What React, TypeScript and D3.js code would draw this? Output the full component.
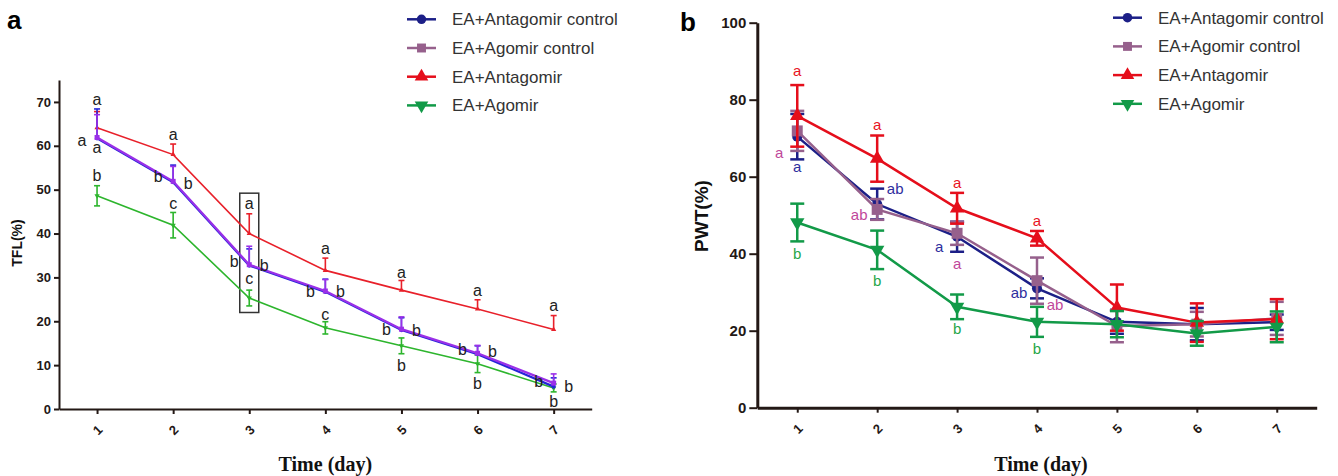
import React, { useEffect, useRef } from 'react';
import * as d3 from 'd3';

const days = [1, 2, 3, 4, 5, 6, 7];
const seriesNames = ['EA+Antagomir control', 'EA+Agomir control', 'EA+Antagomir', 'EA+Agomir'];

// panel a: TFL(%)
const tflAntagomirCtrl = [61.7, 51.7, 32.7, 26.7, 18.0, 12.5, 5.1];
const tflAntagomirCtrlErr = [6.7, 3.9, 3.8, 2.9, 2.8, 1.9, 2.0];
const tflAgomirCtrl = [61.9, 51.9, 32.9, 26.9, 18.2, 12.7, 5.9];
const tflAgomirCtrlErr = [5.2, 3.4, 4.2, 2.6, 2.8, 1.8, 2.1];
const tflAntagomir = [64.1, 58.0, 40.0, 31.6, 27.1, 22.8, 18.1];
const tflAntagomirErr = [3.7, 2.4, 4.5, 2.8, 2.2, 2.1, 3.2];
const tflAgomir = [48.6, 41.9, 25.3, 18.5, 14.4, 10.3, 4.8];
const tflAgomirErr = [2.3, 2.9, 1.8, 1.4, 1.8, 2.0, 0.9];

// significance letters: [day, letter, side, value]
const tflLetters: [number, string, string, number][] = [
  [1, 'a', 'c', 70.5], [1, 'a', 'l', 61.3], [1, 'a', 'c', 59.6], [1, 'b', 'c', 53.2],
  [2, 'a', 'c', 62.5], [2, 'b', 'l', 53.0], [2, 'b', 'r', 51.5], [2, 'c', 'c', 46.9],
  [3, 'a', 'c', 46.9], [3, 'b', 'l', 33.6], [3, 'b', 'r', 32.8], [3, 'c', 'c', 29.8],
  [4, 'a', 'c', 36.6], [4, 'b', 'l', 26.7], [4, 'b', 'r', 26.7], [4, 'c', 'c', 21.6],
  [5, 'a', 'c', 31.1], [5, 'b', 'l', 18.2], [5, 'b', 'r', 17.9], [5, 'b', 'c', 9.9],
  [6, 'a', 'c', 27.0], [6, 'b', 'l', 13.6], [6, 'b', 'r', 13.1], [6, 'b', 'c', 5.9],
  [7, 'a', 'c', 23.6], [7, 'b', 'l', 6.2], [7, 'b', 'r', 5.1], [7, 'b', 'c', 1.7],
];

// panel b: PWT(%)
const pwtAntagomirCtrl = [70.4, 52.9, 44.4, 31.0, 22.3, 21.7, 22.2];
const pwtAntagomirCtrlErr = [5.9, 4.0, 3.9, 2.6, 3.1, 4.2, 2.0];
const pwtAgomirCtrl = [71.9, 51.5, 45.3, 33.0, 21.2, 21.7, 23.2];
const pwtAgomirCtrlErr = [5.2, 2.7, 3.0, 6.0, 4.2, 3.2, 4.3];
const pwtAntagomir = [75.8, 64.7, 51.8, 44.0, 26.0, 22.1, 23.0];
const pwtAntagomirErr = [8.0, 6.0, 4.0, 1.9, 6.0, 5.0, 5.2];
const pwtAgomir = [48.1, 41.0, 26.2, 22.3, 21.7, 19.3, 21.0];
const pwtAgomirErr = [4.9, 5.0, 3.2, 3.9, 3.4, 3.2, 4.0];

// [day, letter, side, value, series index]
const pwtLetters: [number, string, string, number, number][] = [
  [1, 'a', 'c', 87.5, 2], [1, 'a', 'l', 66.2, 1], [1, 'a', 'c', 62.6, 0], [1, 'b', 'c', 40.1, 3],
  [2, 'a', 'c', 73.4, 2], [2, 'ab', 'r', 57.0, 0], [2, 'ab', 'l', 50.1, 1], [2, 'b', 'c', 33.0, 3],
  [3, 'a', 'c', 58.3, 2], [3, 'a', 'l', 41.8, 0], [3, 'a', 'c', 37.5, 1], [3, 'b', 'c', 20.4, 3],
  [4, 'a', 'c', 48.6, 2], [4, 'ab', 'l', 29.9, 0], [4, 'ab', 'r', 26.7, 1], [4, 'b', 'c', 15.4, 3],
];

const legendColors = ['#1c1f87', '#96608c', '#e50e1b', '#129a48'];
const legendSymbols = [d3.symbolCircle, d3.symbolSquare, d3.symbolTriangle, d3.symbolTriangle];

const axisColor = '#231815';

function drawPanel(svg: any, cfg: any) {
  const x = d3.scaleLinear().domain([0.5, 7.5]).range(cfg.xRange);
  const y = d3.scaleLinear().domain(cfg.yDomain).range(cfg.yRange);
  const g = svg.append('g');

  // axes
  const yAxis = g.append('g')
    .attr('transform', `translate(${cfg.xRange[0]},0)`)
    .call(d3.axisLeft(y).tickValues(cfg.yTicks).tickSize(cfg.tickLen).tickSizeOuter(0).tickPadding(3));
  const xAxis = g.append('g')
    .attr('transform', `translate(0,${cfg.yRange[0]})`)
    .call(d3.axisBottom(x).tickValues(days).tickFormat(d3.format('d')).tickSize(5).tickSizeOuter(0));
  [yAxis, xAxis].forEach(ax => {
    ax.select('.domain').attr('stroke', axisColor).attr('stroke-width', cfg.axisWidth);
    ax.selectAll('.tick line').attr('stroke', axisColor).attr('stroke-width', 2);
  });
  yAxis.selectAll('text')
    .attr('fill', axisColor)
    .style('font-family', 'Liberation Sans, Arial, sans-serif')
    .style('font-weight', 'bold')
    .style('font-size', cfg.yTickFont + 'px');
  xAxis.selectAll('text')
    .attr('y', 0).attr('x', 0).attr('dy', '0.35em')
    .attr('text-anchor', 'middle')
    .attr('transform', 'translate(0,21) rotate(-45)')
    .attr('fill', axisColor)
    .style('font-family', 'Liberation Sans, Arial, sans-serif')
    .style('font-weight', 'bold')
    .style('font-size', '13px');

  // axis titles
  g.append('text')
    .attr('x', (cfg.xRange[0] + cfg.xRange[1]) / 2 + cfg.xTitleShift)
    .attr('y', 471)
    .attr('text-anchor', 'middle')
    .style('font-family', 'Liberation Serif, Times New Roman, serif')
    .style('font-weight', 'bold')
    .style('font-size', '20px')
    .attr('fill', '#111')
    .text('Time (day)');
  g.append('text')
    .attr('transform', `translate(${cfg.yTitlePos[0]},${cfg.yTitlePos[1]}) rotate(-90)`)
    .attr('text-anchor', 'middle')
    .attr('dy', '0.35em')
    .style('font-family', 'Liberation Sans, Arial, sans-serif')
    .style('font-weight', 'bold')
    .style('font-size', cfg.yTitleFont + 'px')
    .attr('fill', '#111')
    .text(cfg.yTitle);

  // panel letter
  g.append('text')
    .attr('x', cfg.letterPos[0]).attr('y', cfg.letterPos[1])
    .style('font-family', 'Liberation Sans, Arial, sans-serif')
    .style('font-weight', 'bold')
    .style('font-size', '26px')
    .attr('fill', '#000')
    .text(cfg.letter);

  if (cfg.box) {
    g.append('rect')
      .attr('x', x(cfg.box[0]) - 9.5).attr('width', 19)
      .attr('y', y(cfg.box[1])).attr('height', y(cfg.box[2]) - y(cfg.box[1]))
      .attr('fill', 'none').attr('stroke', '#333').attr('stroke-width', 1.5);
  }

  const line = d3.line<number>().x((d, i) => x(days[i])).y(d => y(d));

  cfg.series.forEach((s: any) => {
    const sg = g.append('g');
    sg.append('path')
      .attr('d', line(s.values))
      .attr('fill', 'none')
      .attr('stroke', s.color)
      .attr('stroke-width', s.width);
    // error bars
    s.values.forEach((v: number, i: number) => {
      const cx = x(days[i]);
      const hi = y(v + s.err[i]);
      const lo = s.both ? y(v - s.err[i]) : y(v);
      sg.append('line').attr('x1', cx).attr('x2', cx).attr('y1', hi).attr('y2', lo)
        .attr('stroke', s.color).attr('stroke-width', s.barWidth);
      const caps = s.both ? [hi, lo] : [hi];
      caps.forEach(cy => {
        sg.append('line').attr('x1', cx - s.cap / 2).attr('x2', cx + s.cap / 2).attr('y1', cy).attr('y2', cy)
          .attr('stroke', s.color).attr('stroke-width', s.barWidth);
      });
    });
    if (s.symbol) {
      sg.selectAll('path.mk')
        .data(s.values)
        .enter()
        .append('path')
        .attr('class', 'mk')
        .attr('d', d3.symbol().type(s.symbol).size(s.size))
        .attr('transform', (d: number, i: number) => `translate(${x(days[i])},${y(d)})${s.flip ? ' rotate(180)' : ''}`)
        .attr('fill', s.color);
    }
  });

  // letters
  cfg.letters.forEach((l: any) => {
    const dx = l[2] === 'l' ? -cfg.sideOffset : l[2] === 'r' ? cfg.sideOffset : 0;
    g.append('text')
      .attr('x', x(l[0]) + dx)
      .attr('y', y(l[3]))
      .attr('dy', '0.35em')
      .attr('text-anchor', 'middle')
      .style('font-family', 'Liberation Sans, Arial, sans-serif')
      .style('font-size', cfg.letterFont + 'px')
      .attr('fill', l.length > 4 ? cfg.letterColors[l[4]] : '#222')
      .text(l[1]);
  });

  // legend
  const lg = g.append('g');
  seriesNames.forEach((name, i) => {
    const ly = cfg.legendPos[1] + i * 28.7;
    const lx = cfg.legendPos[0];
    lg.append('line').attr('x1', lx).attr('x2', lx + 29).attr('y1', ly).attr('y2', ly)
      .attr('stroke', legendColors[i]).attr('stroke-width', 2.5);
    lg.append('path')
      .attr('d', d3.symbol().type(legendSymbols[i]).size(i === 0 ? 70 : 80))
      .attr('transform', `translate(${lx + 14.5},${ly})${i === 3 ? ' rotate(180)' : ''}`)
      .attr('fill', legendColors[i]);
    lg.append('text')
      .attr('x', lx + 45).attr('y', ly).attr('dy', '0.35em')
      .style('font-family', 'Liberation Sans, Arial, sans-serif')
      .style('font-size', '17px')
      .attr('fill', '#333')
      .text(name);
  });
}

const App = () => {
  const chartRef = useRef<SVGSVGElement>(null);

  useEffect(() => {
    const svg = d3.select(chartRef.current);
    svg.selectAll('*').remove();

    drawPanel(svg, {
      xRange: [59, 591.7],
      yRange: [409, 80],
      yDomain: [0, 75],
      yTicks: [0, 10, 20, 30, 40, 50, 60, 70],
      tickLen: 5,
      axisWidth: 2,
      yTickFont: 13,
      xTitleShift: 0,
      yTitle: 'TFL(%)',
      yTitlePos: [17, 243],
      yTitleFont: 14,
      letter: 'a',
      letterPos: [7, 29],
      box: [3, 49.2, 22.0],
      sideOffset: 15,
      letterFont: 16,
      legendPos: [407, 19.3],
      letters: tflLetters,
      series: [
        { values: tflAntagomir, err: tflAntagomirErr, color: '#e8202a', width: 1.6, barWidth: 1.6, cap: 6, both: false, symbol: d3.symbolTriangle, size: 12 },
        { values: tflAgomir, err: tflAgomirErr, color: '#2db52d', width: 1.6, barWidth: 1.6, cap: 6, both: true, symbol: d3.symbolTriangle, size: 12, flip: true },
        { values: tflAntagomirCtrl, err: tflAntagomirCtrlErr, color: '#2525d8', width: 2.2, barWidth: 1.6, cap: 6, both: false, symbol: d3.symbolCircle, size: 14 },
        { values: tflAgomirCtrl, err: tflAgomirCtrlErr, color: '#9a30e8', width: 2.2, barWidth: 1.6, cap: 6, both: false, symbol: d3.symbolSquare, size: 25 },
      ],
    });

    drawPanel(svg, {
      xRange: [757.3, 1316.7],
      yRange: [407.7, 22.7],
      yDomain: [0, 100],
      yTicks: [0, 20, 40, 60, 80, 100],
      tickLen: 8,
      axisWidth: 3,
      yTickFont: 15,
      xTitleShift: 4,
      yTitle: 'PWT(%)',
      yTitlePos: [701, 216],
      yTitleFont: 19,
      letter: 'b',
      letterPos: [680, 31],
      sideOffset: 18,
      letterFont: 15,
      letterColors: ['#2e2e9e', '#c0479a', '#e8141e', '#26a648'],
      legendPos: [1113, 17.7],
      letters: pwtLetters,
      series: [
        { values: pwtAntagomirCtrl, err: pwtAntagomirCtrlErr, color: '#1c1f87', width: 2.5, barWidth: 2.5, cap: 14, both: true, symbol: d3.symbolCircle, size: 80 },
        { values: pwtAgomirCtrl, err: pwtAgomirCtrlErr, color: '#96608c', width: 2.5, barWidth: 2.5, cap: 14, both: true, symbol: d3.symbolSquare, size: 120 },
        { values: pwtAntagomir, err: pwtAntagomirErr, color: '#e50e1b', width: 2.5, barWidth: 2.5, cap: 14, both: true, symbol: d3.symbolTriangle, size: 90 },
        { values: pwtAgomir, err: pwtAgomirErr, color: '#129a48', width: 2.5, barWidth: 2.5, cap: 14, both: true, symbol: d3.symbolTriangle, size: 90, flip: true },
      ],
    });
  }, []);

  return (
    <svg
      ref={chartRef}
      width={1338}
      height={476}
      style={{ position: 'absolute', left: 0, top: 0, background: '#fff' }}
    />
  );
};

export default App;
